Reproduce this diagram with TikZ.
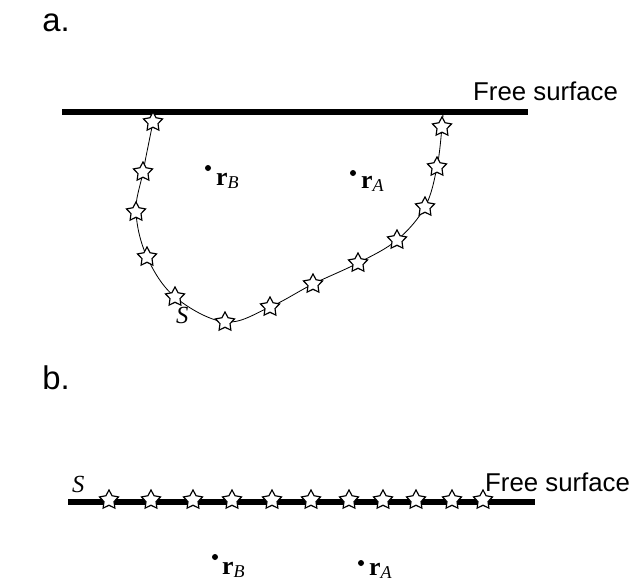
\documentclass[tikz,border=0pt]{standalone}
\usepackage{fontspec}
\setmainfont{Liberation Serif}
\newfontfamily\arialfont{Liberation Sans}
\usepackage{tikz}
\usetikzlibrary{shapes.geometric, positioning}

\begin{document}
\begin{tikzpicture}[
    x=0.03cm, y=-0.03cm,
    surface/.style={line width=4.5pt},
    boundary/.style={line width=0.7pt},
    source/.style={star, star points=5, star point ratio=1.9, draw, fill=white, line width=1pt, minimum size=0.6cm, inner sep=0pt},
    receiver/.style={circle, fill=black, inner sep=0pt, minimum size=0.18cm},
    panel/.style={font=\arialfont\fontsize{28}{32}\selectfont, inner sep=0pt},
    surflabel/.style={anchor=base west, font=\arialfont\fontsize{22}{26}\selectfont, inner sep=0pt},
    rlabel/.style={anchor=base west, font=\fontsize{22}{26}\selectfont, inner sep=0pt},
    slabel/.style={anchor=base west, font=\fontsize{21}{24}\selectfont\itshape, inner sep=0pt},
]
\useasboundingbox (0,0) rectangle (637,583);

% a. curved boundary below the free surface
\node[panel] (pa) at (56,23) {a.};
\coordinate (fa0) at (62,112);
\coordinate (fa1) at (528,112);
\draw[surface] (fa0) -- (fa1);
\node[surflabel] (freea) at (473,100) {Free surface};
\draw[boundary] plot[smooth, tension=0.6] coordinates {(155,112) (153,122) (143,172) (136,212) (147,257) (175,297) (225,322) (270,307) (313,284) (358,263) (397,240) (425,207) (437,167) (442,127) (443,112)};
\foreach \x/\y [count=\i] in {153/122, 143/172, 136/212, 147/257, 175/297, 225/322, 270/307, 313/284, 358/263, 397/240, 425/207, 437/167, 442/127}
    \node[source] (sa\i) at (\x,\y) {};
\node[slabel] (surfa) at (176,323) {S};
\node[receiver] (rBa) at (208,168) {};
\node[rlabel] (rBalab) at ([shift={(8,17)}]rBa.center) {\textbf{r}\textsubscript{\itshape B}};
\node[receiver] (rAa) at (353,173) {};
\node[rlabel] (rAalab) at ([shift={(8,15)}]rAa.center) {\textbf{r}\textsubscript{\itshape A}};

% b. flat boundary on the free surface
\node[panel] (pb) at (56,378) {b.};
\coordinate (fb0) at (68,502);
\coordinate (fb1) at (535,502);
\draw[surface] (fb0) -- (fb1);
\node[surflabel] (freeb) at (485,491) {Free surface};
\foreach \x [count=\i] in {109, 151, 193, 232, 272, 311, 349, 383, 416, 452, 483}
    \node[source] (sb\i) at (\x,500) {};
\node[slabel] (surfb) at (72,492) {S};
\node[receiver] (rBb) at (215,557) {};
\node[rlabel] (rBblab) at ([shift={(7,17)}]rBb.center) {\textbf{r}\textsubscript{\itshape B}};
\node[receiver] (rAb) at (361,563) {};
\node[rlabel] (rAblab) at ([shift={(8,12)}]rAb.center) {\textbf{r}\textsubscript{\itshape A}};
\end{tikzpicture}
\end{document}
